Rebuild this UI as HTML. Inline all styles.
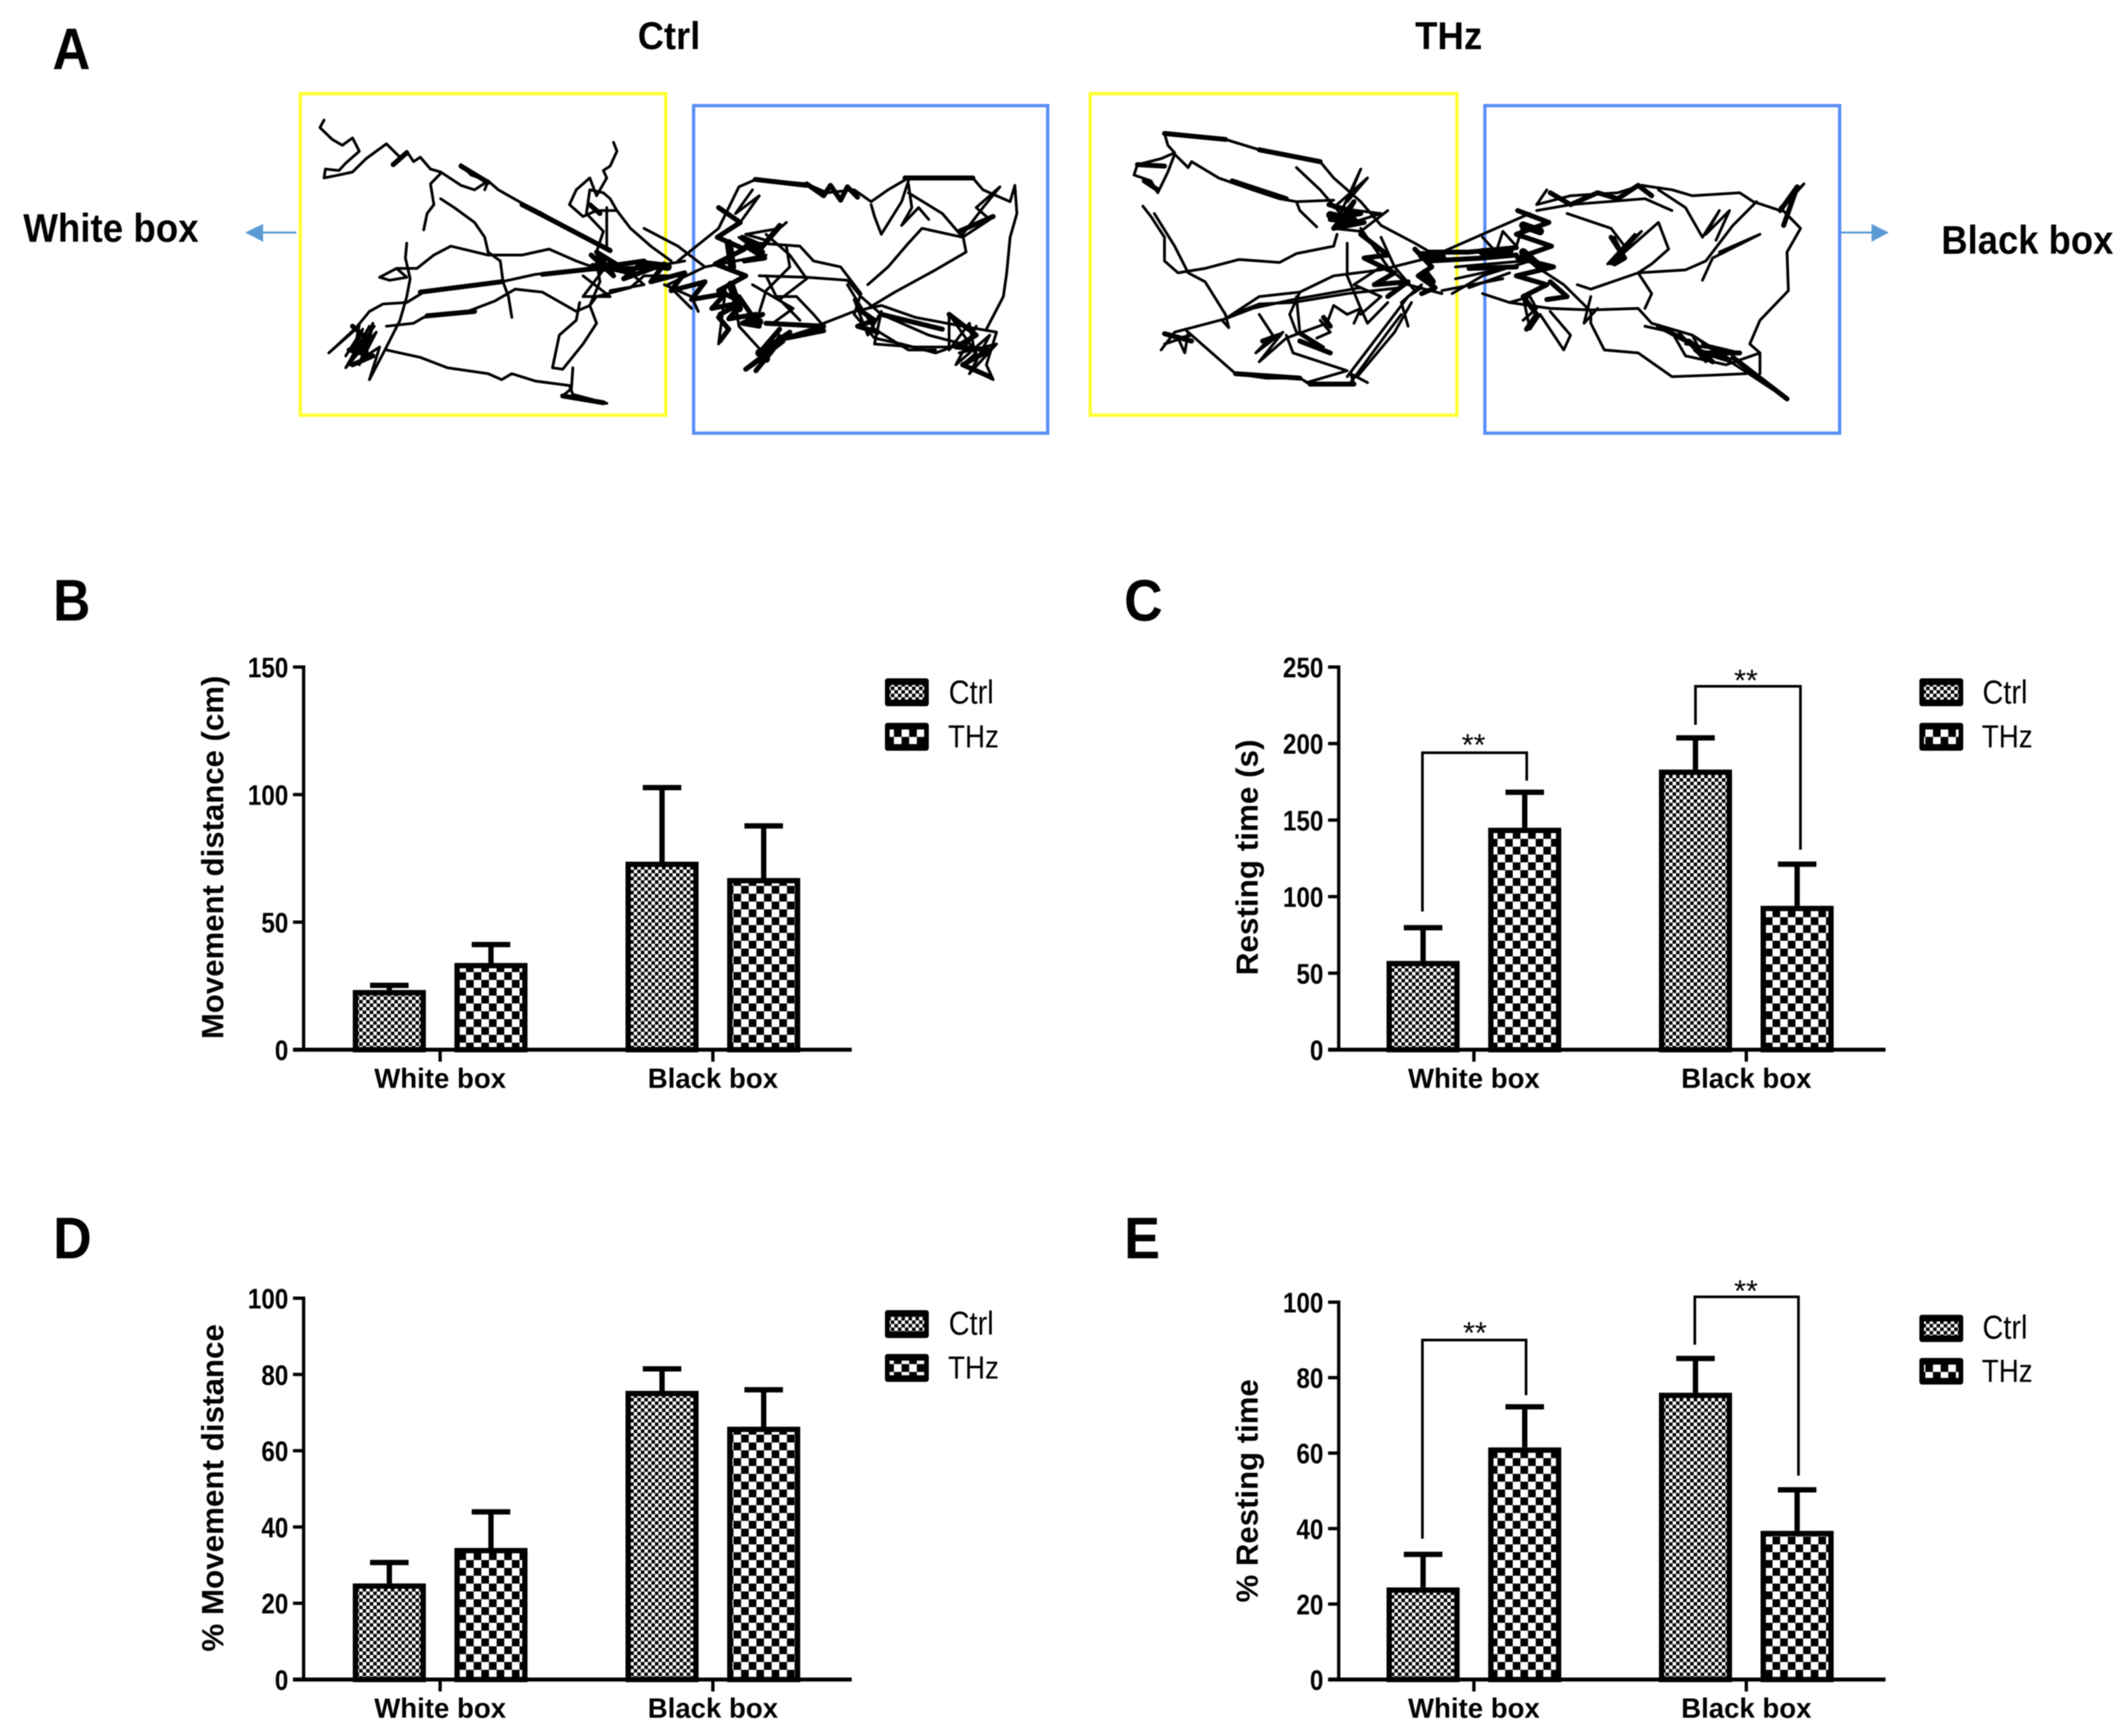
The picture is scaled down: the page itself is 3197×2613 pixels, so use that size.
<!DOCTYPE html>
<html lang="en">
<head>
<meta charset="utf-8">
<title>Movement and resting time in white and black boxes</title>
<style>
html,body{margin:0;padding:0;background:#fff}
#figure{display:block;width:3197px;height:2613px;filter:blur(.7px)}
text{font-family:"Liberation Sans",sans-serif;fill:#000}
.b{font-weight:700}
.track{fill:none;stroke:#000;stroke-linejoin:round;stroke-linecap:round}
</style>
</head>
<body>
<svg id="figure" xmlns="http://www.w3.org/2000/svg" width="3197" height="2613" viewBox="0 0 3197 2613">
<defs>
<pattern id="fine-check" width="10.6" height="10.6" patternUnits="userSpaceOnUse">
<rect width="10.6" height="10.6" fill="#fff"/><rect width="5.3" height="5.3" fill="#000"/><rect x="5.3" y="5.3" width="5.3" height="5.3" fill="#000"/>
</pattern>
<pattern id="coarse-check" width="23" height="23.6" patternUnits="userSpaceOnUse">
<rect width="23" height="23.6" fill="#fff"/><rect width="11.5" height="11.8" fill="#000"/><rect x="11.5" y="11.8" width="11.5" height="11.8" fill="#000"/>
</pattern>
</defs>
<rect width="3197" height="2613" fill="#fff"/>

<g>
<text class="b" x="79" y="104" font-size="88" textLength="57" lengthAdjust="spacingAndGlyphs">A</text>
<text class="b" x="960" y="74" font-size="58" textLength="94" lengthAdjust="spacingAndGlyphs">Ctrl</text>
<text class="b" x="2130" y="74" font-size="58" textLength="101" lengthAdjust="spacingAndGlyphs">THz</text>
<text class="b" x="35" y="364" font-size="60" textLength="264" lengthAdjust="spacingAndGlyphs">White box</text>
<text class="b" x="2922" y="382" font-size="60" textLength="259" lengthAdjust="spacingAndGlyphs">Black box</text>
<rect x="452" y="141" width="550" height="484" fill="none" stroke="#ffff30" stroke-width="5"/>
<rect x="1044" y="159" width="533" height="493" fill="none" stroke="#5b8ff5" stroke-width="5"/>
<rect x="1641" y="141" width="552" height="484" fill="none" stroke="#ffff30" stroke-width="5"/>
<rect x="2235" y="159" width="534" height="493" fill="none" stroke="#5b8ff5" stroke-width="5"/>
<g>
<line x1="395" y1="350" x2="446" y2="350" stroke="#5b9bd5" stroke-width="3"/>
<polygon points="369,350 396,337 396,364" fill="#5b9bd5"/>
</g>
<g>
<line x1="2771" y1="350" x2="2820" y2="350" stroke="#5b9bd5" stroke-width="3"/>
<polygon points="2843,350 2817,337 2817,364" fill="#5b9bd5"/>
</g>
<g id="ctrl-tracks"></g>
<g id="thz-tracks"></g>
</g>

<g id="panel-b">
<text class="b" x="80" y="934" font-size="88" textLength="56" lengthAdjust="spacingAndGlyphs">B</text>
<text class="b" transform="translate(336,1564) rotate(-90)" font-size="46" textLength="547" lengthAdjust="spacingAndGlyphs">Movement distance (cm)</text>
<g>
<rect x="1332" y="1021" width="66" height="42" rx="4" fill="#000"/><rect x="1339" y="1031" width="52" height="22" fill="url(#fine-check)"/>
<text transform="translate(1428,1059) scale(.87,1)" font-size="50">Ctrl</text>
<rect x="1332" y="1088" width="66" height="42" rx="4" fill="#000"/><rect x="1339" y="1098" width="52" height="22" fill="url(#coarse-check)"/>
<text transform="translate(1427,1125) scale(.87,1)" font-size="48">THz</text>
</g>
</g>

<g id="panel-c">
<text class="b" x="1692" y="934" font-size="88" textLength="58" lengthAdjust="spacingAndGlyphs">C</text>
<text class="b" transform="translate(1893,1468) rotate(-90)" font-size="46" textLength="355" lengthAdjust="spacingAndGlyphs">Resting time (s)</text>
<g>
<rect x="2889" y="1021" width="66" height="42" rx="4" fill="#000"/><rect x="2896" y="1031" width="52" height="22" fill="url(#fine-check)"/>
<text transform="translate(2984,1059) scale(.87,1)" font-size="50">Ctrl</text>
<rect x="2889" y="1088" width="66" height="42" rx="4" fill="#000"/><rect x="2896" y="1098" width="52" height="22" fill="url(#coarse-check)"/>
<text transform="translate(2983,1125) scale(.87,1)" font-size="48">THz</text>
</g>
<g>
<path d="M2141 1372V1133H2298V1175" fill="none" stroke="#000" stroke-width="4"/>
<text x="2218" y="1137" font-size="46" text-anchor="middle">**</text>
</g>
<g>
<path d="M2552 1091V1033H2710V1279" fill="none" stroke="#000" stroke-width="4"/>
<text x="2628" y="1040" font-size="46" text-anchor="middle">**</text>
</g>
</g>

<g id="panel-d">
<text class="b" x="80" y="1894" font-size="88" textLength="58" lengthAdjust="spacingAndGlyphs">D</text>
<text class="b" transform="translate(336,2486) rotate(-90)" font-size="46" textLength="493" lengthAdjust="spacingAndGlyphs">% Movement distance</text>
<g>
<rect x="1332" y="1972" width="66" height="42" rx="4" fill="#000"/><rect x="1339" y="1982" width="52" height="22" fill="url(#fine-check)"/>
<text transform="translate(1428,2009) scale(.87,1)" font-size="50">Ctrl</text>
<rect x="1332" y="2038" width="66" height="42" rx="4" fill="#000"/><rect x="1339" y="2048" width="52" height="22" fill="url(#coarse-check)"/>
<text transform="translate(1427,2075) scale(.87,1)" font-size="48">THz</text>
</g>
</g>

<g id="panel-e">
<text class="b" x="1692" y="1894" font-size="88" textLength="54" lengthAdjust="spacingAndGlyphs">E</text>
<text class="b" transform="translate(1893,2412) rotate(-90)" font-size="46" textLength="336" lengthAdjust="spacingAndGlyphs">% Resting time</text>
<g>
<rect x="2889" y="1979" width="66" height="41" rx="4" fill="#000"/><rect x="2896" y="1989" width="52" height="21" fill="url(#fine-check)"/>
<text transform="translate(2984,2015) scale(.87,1)" font-size="50">Ctrl</text>
<rect x="2889" y="2044" width="66" height="40" rx="4" fill="#000"/><rect x="2896" y="2054" width="52" height="20" fill="url(#coarse-check)"/>
<text transform="translate(2983,2080) scale(.87,1)" font-size="48">THz</text>
</g>
<g>
<path d="M2141 2316V2017H2297V2100" fill="none" stroke="#000" stroke-width="4"/>
<text x="2220" y="2022" font-size="46" text-anchor="middle">**</text>
</g>
<g>
<path d="M2551 2024V1952H2707V2221" fill="none" stroke="#000" stroke-width="4"/>
<text x="2628" y="1959" font-size="46" text-anchor="middle">**</text>
</g>
</g>
</svg>

<script>
/* Bar chart data */
const categories = ['White box', 'Black box'];

const panelBTicks = [0, 50, 100, 150];
const panelBCtrl = [23.4, 73.7];
const panelBThz = [34, 67.3];
const panelBCtrlError = [26, 103.5];
const panelBThzError = [42, 88.5];

const panelCTicks = [0, 50, 100, 150, 200, 250];
const panelCCtrl = [58, 183];
const panelCThz = [145, 94];
const panelCCtrlError = [81, 205];
const panelCThzError = [169.5, 122.5];

const panelDTicks = [0, 20, 40, 60, 80, 100];
const panelDCtrl = [25.2, 75.7];
const panelDThz = [34.5, 66.3];
const panelDCtrlError = [31.2, 82];
const panelDThzError = [44.5, 76.5];

const panelETicks = [0, 20, 40, 60, 80, 100];
const panelECtrl = [24.4, 76];
const panelEThz = [61.5, 39.4];
const panelECtrlError = [33.7, 85.6];
const panelEThzError = [72.8, 50.8];

/* Movement tracks in arena coordinates: flat x,y lists */
const ctrlThinTracks = [
[478,405,472,430,490,470,505,490,520,465,530,510,510,550,500,575,480,570,478,600,500,590,520,580,540,535,570,485,590,530,600,510,610,545,620,530,635,570,650,580,680,625,700,640,720,610,735,640,770,685,800,720,850,785,900,840],
[680,555,695,590,720,610,715,640],
[650,585,635,620,640,690,630,720,625,775],
[650,670,670,700,700,750,715,800,720,850,738,880,742,950,750,1000,755,1070],
[600,820,598,870,605,940,600,1000,590,1080,570,1170,545,1280],
[560,935,585,905,615,905,640,860,665,830,720,860,770,860,810,840,850,880,880,905,960,900,1010,880],
[560,935,575,945,600,935,585,905],
[485,1190,520,1120,545,1050,565,1025,600,1020,625,985,680,965,740,950,790,925,850,910,900,910,980,905],
[570,1100,610,1090,625,1070,690,1050,730,1015,760,975,800,985,850,1050,870,1030,880,1000,930,970,950,930,1000,930],
[570,1180,620,1205,660,1240,720,1260,740,1280,755,1260,790,1285,840,1300,845,1330,895,1360],
[855,1020,850,1080,825,1130,815,1240,830,1245,860,1160,880,1090,870,1030,885,950,880,880],
[845,1240,843,1310,830,1335,860,1345,895,1360],
[905,480,910,510,900,560,890,575,895,600,880,660,870,600,850,640,840,690,860,730,880,710,910,710,900,670,890,650,870,640,865,720,890,780,880,850,885,920],
[910,710,930,770,960,830,990,880],[895,700,895,840],
[490,1180,530,1095,520,1215,545,1100,510,1240,555,1120,530,1230,550,1090,540,1200,560,1170,545,1280],
[510,1200,535,1110,515,1230,545,1130,525,1190,552,1100],
[1020,1040,985,960,1040,900,1130,860],[1000,880,1060,770,1075,700,1090,630,1115,605,1190,620,1220,650,1260,640,1285,680,1310,640,1340,600,1435,600,1450,640,1490,680,1497,625,1500,720,1490,800,1485,920,1480,1000,1455,1110],
[1340,610,1330,680,1300,790,1290,730,1285,690],
[1340,650,1390,720,1420,800,1460,740,1440,700,1475,630,1450,700,1420,790,1425,850,1380,910,1320,985,1280,1040],
[1420,800,1360,770,1340,820,1310,900,1280,960],
[1340,620,1345,700,1330,760,1355,700,1370,740],
[1160,750,1130,810,1100,790,1150,770,1120,850,1090,800],
[1120,820,1180,830,1200,880,1240,900,1270,990,1260,1060,1290,1140,1330,1160,1380,1190,1430,1150],
[1120,930,1190,935,1250,945,1270,1000,1300,1060,1370,1130,1420,1160],
[1215,1090,1260,1050,1300,1030,1350,1070,1420,1100,1470,1120,1455,1230,1465,1280,1420,1230,1440,1190,1400,1060,1400,1180,1430,1090,1440,1220],
[1260,1010,1280,1130,1300,1050,1290,1160,1350,1170,1400,1170],[1250,960,1290,1110,1340,1180,1380,1180],
[1440,1100,1410,1230,1460,1130,1430,1260,1470,1160,1415,1190],
[1130,930,1145,1000,1175,1000,1200,1060,1215,1100],[1160,830,1165,900,1130,980,1115,1090],
[1070,980,1060,1160],[1085,1020,1090,1100,1130,1200,1150,1130],
[980,960,1020,1000,1030,1050],[950,770,1000,830,1040,900],
[1110,640,1085,720,1120,660,1095,740],[1130,790,1165,860,1190,940,1150,1010,1180,1080],
[900,880,860,1000,900,1000,860,930],[930,920,950,960,900,980],
[1110,960,1170,1040,1140,1090,1200,1100]
];
const ctrlThickTracks = [
[770,690,800,725,850,785,900,845],[580,555,600,515],[1114,605,1190,625],
[1335,600,1435,600],[800,925,880,905],
[620,985,740,950],[630,1065,700,1050],[1415,780,1465,730],
[870,690,885,720],[1300,1060,1390,1110],
[830,1335,890,1358],[680,560,720,615],
[872,860,905,930,880,850,930,920,890,900,950,880,920,940,980,890,960,950,1010,920,990,980,1040,950,1020,1010,1070,990,1050,1040,1095,1020,1075,1075,1115,1060],
[1060,700,1092,750,1058,800,1098,840,1055,890,1100,930,1060,980,1095,1020,1062,1060],
[1095,800,1125,850,1100,830,1128,870,1098,880],
[1150,760,1125,830,1095,800],
[1150,1110,1120,1190,1165,1120,1110,1230,1155,1150,1100,1245,1140,1180,1115,1250],
[1130,1090,1215,1100,1160,1140,1215,1115],
[1090,1000,1120,1100,1095,1090,1125,1060],
[1190,620,1215,660,1225,625,1240,675,1250,630,1265,665],
[520,1100,545,1150,515,1180,550,1200,520,1230],
[1400,1060,1440,1130,1410,1170,1460,1180,1420,1230,1460,1270],
[1265,1040,1290,1080,1265,1100,1295,1120],
[1060,1070,1075,1110,1062,1150]
];
const ctrlHeavyTracks = [
[875,900,905,905],[950,890,985,900],[1075,820,1080,900],[1078,960,1090,1040],[1120,1190,1130,1210],[1105,1070,1120,1085]
];
const thzThinTracks = [
[150,450,190,460,240,470,290,505,340,525,380,545,400,600,420,640,440,680,470,760,520,820,550,860],
[150,450,155,490,165,515,145,535,110,555,105,590,130,610,140,650,155,580,165,520,185,565,190,545,230,600,280,640,320,670,345,680,350,710,375,765],
[345,680,400,675],
[345,565,380,640,410,720,440,570,420,680,450,600,400,700,470,720,400,770,440,780,480,710],
[118,695,130,730,150,800,150,880,170,920,210,905,260,875,320,885,345,855,400,830,405,790],
[135,720,165,830,185,920,210,950,240,1060,245,1105,235,1080],
[145,1180,165,1120,240,1075,290,1000,350,985,400,930,470,910,540,870],
[250,1060,290,1025,340,1020,420,990,500,970],[240,1075,280,1040,340,1010,440,970],
[180,1110,210,1170,255,1260,300,1275,350,1275,365,1295,430,1295,425,1260,450,1290],
[185,1120,180,1190,170,1140,190,1130,150,1160],
[350,985,335,1060,345,1120,390,1185],[345,1000,350,1120,385,1170],
[290,1060,310,1130,285,1190,325,1120,290,1220,330,1140,390,1090,400,1030,420,1060,440,1040,450,1090,480,1020],
[330,1130,340,1190,420,1250,360,1290],[420,1270,470,1120,510,1000,530,970],[435,1270,490,1120,515,1020],
[425,1290,480,1120,500,1060],[510,1100,500,1020,530,960],[420,820,420,930],[420,930,440,1040,430,1090],
[470,800,490,900,520,980],[440,770,480,900,510,960,560,990],
[575,990,620,930,690,880],[580,900,680,880],[550,860,580,830,690,720],[600,970,660,920],[580,940,660,900],[560,980,650,940],
[620,800,640,850,650,780,670,830,680,760],
[620,990,660,1020,720,1040,780,1045,850,1040,870,1090,930,1130,980,1210,1070,1345],
[715,640,700,690,750,660,820,650,855,625,900,640,930,660,1000,650,1020,680,1060,710,1095,620,1060,700,1090,770,1070,850,1072,980,1030,1080,1015,1160,1030,1190,1030,1260],
[700,710,750,690,860,670,900,710],[880,640,920,700,945,800,970,710,950,790,985,710,965,810],
[745,720,810,770,830,830,855,780,810,890,880,750,895,840,870,890,850,920,780,975,760,960],
[850,920,920,910,950,880,990,760,1025,680],[945,945,960,870,1030,790,970,850,1020,800],
[850,920,870,990,860,1040],[700,900,740,960,780,1050,780,1090,800,1180,850,1190,900,1270,960,1265,1010,1260],
[860,1100,900,1120,920,1200,980,1230,1030,1190],[680,1000,690,1110,705,1060,740,1180,750,1130,720,1050],
[780,1000,770,1090,790,1040],[910,1120,950,1220,930,1130,985,1210,945,1160,1000,1190,920,1160],
[815,800,830,870,805,890,845,790],[660,1020,690,1000,700,1040,680,1080],
[470,900,430,960,470,1000,440,1060],[380,1080,395,1120,375,1140]
];
const thzThickTracks = [
[150,450,240,470],[290,505,380,545],[250,610,330,670],[110,555,150,560],[120,610,140,640],
[255,1260,350,1275],[365,1295,430,1295],[990,1205,1070,1345],
[350,1150,395,1190],[385,1070,395,1100],[150,1125,190,1150],
[295,1150,320,1130],[880,1100,930,1160],
[393,690,440,720,395,740,445,750,400,770,430,680,410,760],
[440,790,480,860,445,870,490,920,460,960,510,950,480,1000],
[520,840,545,900,525,930,550,970,530,990],
[672,710,718,750,670,790,722,830,672,870,725,900,670,930,715,960,680,1000,700,1060,685,1110],
[540,850,600,850,670,835],[540,880,620,870,670,860],[600,905,670,900],
[720,650,750,690,790,650,820,670,850,625,870,660],
[810,800,830,870,815,890],
[925,1150,960,1220,935,1180,985,1215,950,1190,1000,1190],
[1060,710,1085,630,1065,760],
[720,950,745,1000,715,1010]
];
const thzHeavyTracks = [
[395,725,430,745],[530,860,560,865],[620,850,660,845],[680,760,705,780],[680,850,705,900],[535,920,545,950]
];

const NS = 'http://www.w3.org/2000/svg';

function shape(tag, attrs, parent) {
  const el = document.createElementNS(NS, tag);
  for (const k in attrs) el.setAttribute(k, attrs[k]);
  parent.appendChild(el);
  return el;
}

/* Track scales map arena coordinates to page pixels */
function trackScaleCtrl(x, y) { return [x * 1.0204, y * 0.4464]; }
function trackScaleThz(x, y) { return [1600 + x * 1.0185, y * 0.4464]; }

function drawTracks(host, tracks, scale, width) {
  tracks.forEach(function (flat) {
    const pts = [];
    for (let i = 0; i < flat.length; i += 2) pts.push(scale(flat[i], flat[i + 1]).join(','));
    const line = shape('polyline', { points: pts.join(' '), class: 'track', 'stroke-width': width }, host);
    
    
  });
}

const ctrlHost = document.getElementById('ctrl-tracks');
drawTracks(ctrlHost, ctrlThinTracks, trackScaleCtrl, 4.2);
drawTracks(ctrlHost, ctrlThickTracks, trackScaleCtrl, 7.5);
drawTracks(ctrlHost, ctrlHeavyTracks, trackScaleCtrl, 12);
const thzHost = document.getElementById('thz-tracks');
drawTracks(thzHost, thzThinTracks, trackScaleThz, 4.2);
drawTracks(thzHost, thzThickTracks, trackScaleThz, 7.5);
drawTracks(thzHost, thzHeavyTracks, trackScaleThz, 12);

/* Axis functions and bar drawing */
function drawPanel(id, frame, ticks, ctrl, thz, ctrlError, thzError) {
  const host = document.getElementById(id);
  const max = ticks[ticks.length - 1];
  const yOf = function (v) { return frame.y0 - (frame.y0 - frame.yTop) * v / max; };
  const xOf = function (cat, series) { return frame.groups[cat] + (series === 0 ? -76.5 : 76.5); };

  [[ctrl, ctrlError, 'url(#fine-check)', 'ctrl'], [thz, thzError, 'url(#coarse-check)', 'thz']].forEach(function (s, si) {
    s[0].forEach(function (v, ci) {
      const cx = xOf(ci, si);
      const top = yOf(v);
      const errTop = yOf(s[1][ci]);
      const stem = shape('line', { x1: cx, x2: cx, y1: top, y2: errTop, stroke: '#000', 'stroke-width': 8 }, host);
      
      
      const cap = shape('line', { x1: cx - 29, x2: cx + 29, y1: errTop + 3, y2: errTop + 3, stroke: '#000', 'stroke-width': 8 }, host);
      
      
      const bar = shape('rect', { x: cx - 51, y: top + 4, width: 102, height: frame.y0 - top - 4, fill: s[2], stroke: '#000', 'stroke-width': 8 }, host);
      
      
    });
  });

  const spine = shape('line', { x1: frame.spine, x2: frame.spine, y1: frame.yTop - 2.5, y2: frame.y0, stroke: '#000', 'stroke-width': 5 }, host);
  
  
  const base = shape('line', { x1: frame.spine - 16, x2: frame.right, y1: frame.y0, y2: frame.y0, stroke: '#000', 'stroke-width': 6 }, host);
  
  

  ticks.forEach(function (t) {
    const y = yOf(t);
    const mark = shape('line', { x1: frame.spine - 16, x2: frame.spine, y1: y, y2: y, stroke: '#000', 'stroke-width': 5 }, host);
    
    
    const label = shape('text', { transform: 'translate(' + (frame.spine - 23) + ',' + (y + 15.5) + ') scale(.85,1)', 'font-size': 43, 'text-anchor': 'end', class: 'b' }, host);
    label.textContent = t;
    
    
  });

  categories.forEach(function (c, i) {
    const x = frame.groups[i];
    const mark = shape('line', { x1: x, x2: x, y1: frame.y0, y2: frame.y0 + 18, stroke: '#000', 'stroke-width': 5 }, host);
    
    
    const label = shape('text', { x: x, y: frame.y0 + 57.5, 'font-size': 41.5, 'text-anchor': 'middle', class: 'b' }, host);
    label.textContent = c;
    
    
  });
}

drawPanel('panel-b', { spine: 457, right: 1282, y0: 1580, yTop: 1004, groups: [662.5, 1073] }, panelBTicks, panelBCtrl, panelBThz, panelBCtrlError, panelBThzError);
drawPanel('panel-c', { spine: 2015, right: 2838, y0: 1580, yTop: 1004, groups: [2218.5, 2628.5] }, panelCTicks, panelCCtrl, panelCThz, panelCCtrlError, panelCThzError);
drawPanel('panel-d', { spine: 457, right: 1282, y0: 2528, yTop: 1954, groups: [662.5, 1073] }, panelDTicks, panelDCtrl, panelDThz, panelDCtrlError, panelDThzError);
drawPanel('panel-e', { spine: 2015, right: 2838, y0: 2528, yTop: 1960, groups: [2218.5, 2628.5] }, panelETicks, panelECtrl, panelEThz, panelECtrlError, panelEThzError);
</script>
</body>
</html>
